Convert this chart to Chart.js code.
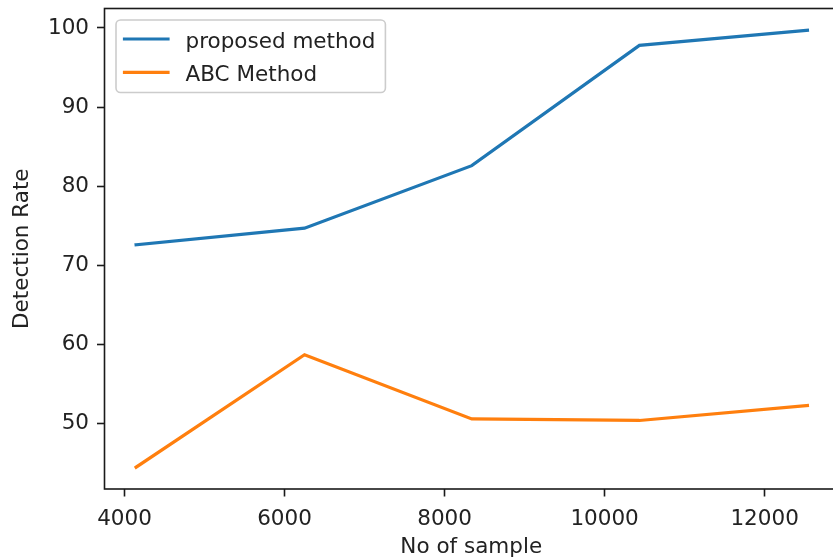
<!DOCTYPE html>
<html>
<head>
<meta charset="utf-8">
<script src="https://cdn.jsdelivr.net/npm/chart.js@4.4.1/dist/chart.umd.min.js"></script>
<style>
  html, body { margin: 0; padding: 0; overflow: hidden; background: #fff; }
  #wrap { position: absolute; left: 0; top: 0; width: 845px; height: 560px; }
</style>
</head>
<body>
<div id="wrap"><canvas id="myChart" width="845" height="560"></canvas></div>
<script>
// DATOS
const samples = [4145, 6250, 8340, 10435, 12535];
const proposed = [72.6, 74.7, 82.6, 97.8, 99.7];
const abc = [44.5, 58.7, 50.6, 50.4, 52.3];
const xTicks = [4000, 6000, 8000, 10000, 12000];
const yTicks = [50, 60, 70, 80, 90, 100];
const xLimits = [3750, 12917];
const seriesNames = ["proposed method", "ABC Method"];

// margen de 5% como matplotlib
function padRange(vals) {
  const lo = Math.min(...vals);
  const hi = Math.max(...vals);
  const m = (hi - lo) * 0.05;
  return [lo - m, hi + m];
}
const yRange = padRange(proposed.concat(abc));

const FONT = "'DejaVu Sans', 'Liberation Sans', sans-serif";
const INK = "#222";
Chart.defaults.font.family = FONT;
Chart.defaults.font.size = 21.5;
Chart.defaults.color = INK;

// marco + leyenda
const frameLegend = {
  id: "frameLegend",
  afterDatasetsDraw(chart) {
    const { ctx, chartArea: a } = chart;
    ctx.save();
    ctx.strokeStyle = "#1a1a1a";
    ctx.lineWidth = 1.6;
    ctx.strokeRect(a.left, a.top, a.right - a.left, a.bottom - a.top);

    // leyenda
    ctx.font = "21.5px " + FONT;
    const boxX = a.left + 11.5;
    const boxY = a.top + 11.5;
    const textX = boxX + 69.5;
    let maxW = 0;
    chart.data.datasets.forEach((ds) => {
      maxW = Math.max(maxW, ctx.measureText(ds.label).width);
    });
    const boxW = textX + maxW + 10 - boxX;
    const boxH = 72.5;
    ctx.beginPath();
    ctx.roundRect(boxX, boxY, boxW, boxH, 4.5);
    ctx.fillStyle = "rgba(255,255,255,0.8)";
    ctx.fill();
    ctx.strokeStyle = "#cccccc";
    ctx.lineWidth = 1.6;
    ctx.stroke();

    chart.data.datasets.forEach((ds, i) => {
      const y = boxY + 19 + i * 33.3;
      ctx.beginPath();
      ctx.moveTo(boxX + 8.5, y);
      ctx.lineTo(boxX + 52, y);
      ctx.strokeStyle = ds.borderColor;
      ctx.lineWidth = 3.2;
      ctx.lineCap = "square";
      ctx.stroke();
      ctx.fillStyle = INK;
      ctx.textBaseline = "alphabetic";
      ctx.fillText(ds.label, textX, y + 8.5);
    });
    ctx.restore();
  },
};

const cLine = document.getElementById("myChart");
new Chart(cLine, {
  type: "line",
  data: {
    datasets: [
      {
        label: seriesNames[0],
        data: samples.map((x, i) => ({ x: x, y: proposed[i] })),
        borderColor: "#1f77b4",
        borderWidth: 3.2,
        borderCapStyle: "square",
        pointRadius: 0,
        tension: 0,
      },
      {
        label: seriesNames[1],
        data: samples.map((x, i) => ({ x: x, y: abc[i] })),
        borderColor: "#ff7f0e",
        borderWidth: 3.2,
        borderCapStyle: "square",
        pointRadius: 0,
        tension: 0,
      },
    ],
  },
  options: {
    responsive: false,
    animation: false,
    layout: {
      padding: { left: 0, top: 8.5, right: 7, bottom: 0 },
    },
    plugins: {
      legend: { display: false },
      tooltip: { enabled: false },
    },
    scales: {
      x: {
        type: "linear",
        min: xLimits[0],
        max: xLimits[1],
        afterBuildTicks: (s) => {
          s.ticks = xTicks.map((v) => ({ value: v }));
        },
        afterFit: (s) => {
          s.height = 71;
          s.paddingLeft = 0;
          s.paddingRight = 0;
        },
        ticks: {
          autoSkip: false,
          maxRotation: 0,
          padding: 10,
          color: INK,
          callback: (v) => String(v),
        },
        grid: {
          drawOnChartArea: false,
          drawTicks: true,
          tickLength: 7.5,
          tickWidth: 1.6,
          tickColor: "#1a1a1a",
        },
        border: { display: false },
        title: {
          display: true,
          text: "No of sample",
          color: INK,
          padding: { top: 1, bottom: 0 },
        },
      },
      y: {
        type: "linear",
        min: yRange[0],
        max: yRange[1],
        afterBuildTicks: (s) => {
          s.ticks = yTicks.map((v) => ({ value: v }));
        },
        afterFit: (s) => {
          s.width = 104.5;
          s.paddingTop = 0;
          s.paddingBottom = 0;
        },
        ticks: {
          padding: 8,
          color: INK,
          callback: (v) => String(v),
        },
        grid: {
          drawOnChartArea: false,
          drawTicks: true,
          tickLength: 7.5,
          tickWidth: 1.6,
          tickColor: "#1a1a1a",
        },
        border: { display: false },
        title: {
          display: true,
          text: "Detection Rate",
          color: INK,
          padding: { top: 10, bottom: 0 },
        },
      },
    },
  },
  plugins: [frameLegend],
});
</script>
</body>
</html>
